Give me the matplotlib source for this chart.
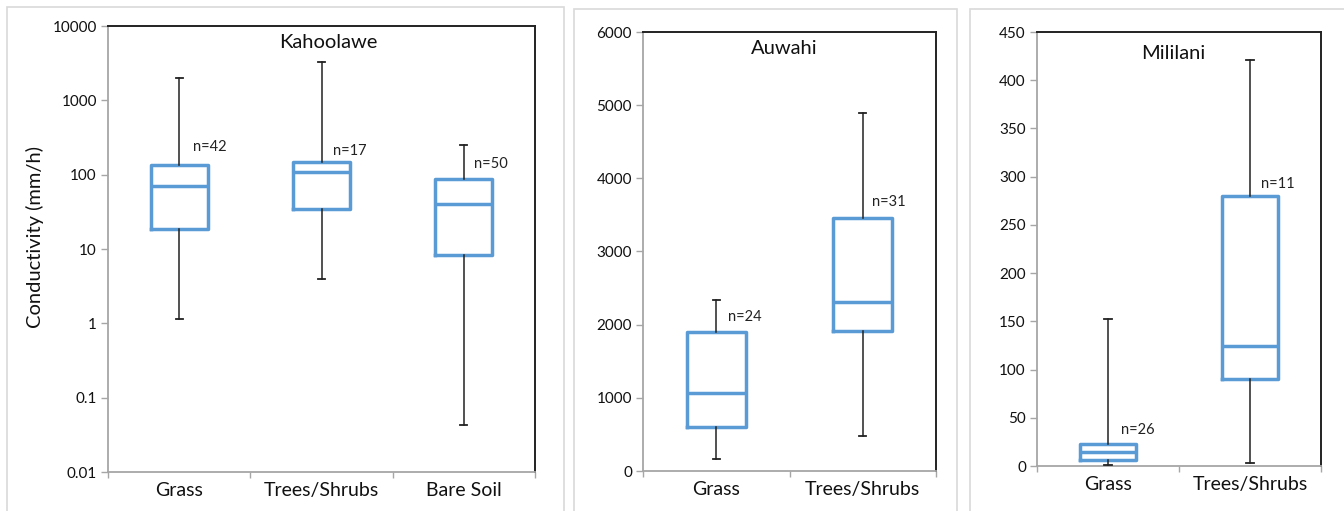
import matplotlib
matplotlib.use("Agg")
import matplotlib.pyplot as plt
from matplotlib.patches import Rectangle
from matplotlib.ticker import FixedLocator, NullLocator

plt.rcParams['font.family'] = ['Lato', 'DejaVu Sans']

# ---------------- data ----------------
kah_categories = ["Grass", "Trees/Shrubs", "Bare Soil"]
kah_whislo = [1.15, 3.9, 0.043]
kah_q1 = [18.7, 34, 8.2]
kah_med = [71, 108, 40]
kah_q3 = [137, 146, 86.5]
kah_whishi = [2000, 3270, 253]
kah_n = ["n=42", "n=17", "n=50"]
kah_n_y = [237, 209, 139]

auw_categories = ["Grass", "Trees/Shrubs"]
auw_whislo = [160, 479]
auw_q1 = [597, 1915]
auw_med = [1071, 2316]
auw_q3 = [1906, 3456]
auw_whishi = [2334, 4892]
auw_n = ["n=24", "n=31"]
auw_n_y = [2111, 3675]

mil_categories = ["Grass", "Trees/Shrubs"]
mil_whislo = [1.0, 3.4]
mil_q1 = [6.6, 90.3]
mil_med = [14.5, 124]
mil_q3 = [23.2, 280]
mil_whishi = [152.4, 420.7]
mil_n = ["n=26", "n=11"]
mil_n_y = [37, 292]

kah_yticks = [0.01, 0.1, 1, 10, 100, 1000, 10000]
kah_yticklabels = ["0.01", "0.1", "1", "10", "100", "1000", "10000"]
auw_yticks = [0, 1000, 2000, 3000, 4000, 5000, 6000]
mil_yticks = [0, 50, 100, 150, 200, 250, 300, 350, 400, 450]

# ---------------- style ----------------
W, H = 1344, 511
BLUE = "#5B9BD5"
GRAY = "#A6A6A6"
FRAME = "#D9D9D9"

fig = plt.figure(figsize=(W / 100, H / 100), dpi=100)
fig.patch.set_facecolor("white")


def px_axes(l, r, t, b):
    return fig.add_axes([l / W, (H - b) / H, (r - l) / W, (b - t) / H])


# outer panel frames (figure pixel coordinates)
for (l, r, t) in [(7, 564, 7), (574, 957, 9), (970, 1350, 9)]:
    fig.patches.append(Rectangle((l / W, -0.05), (r - l) / W, (H - t) / H + 0.05,
                                 transform=fig.transFigure, fill=False,
                                 edgecolor=FRAME, linewidth=1.2, zorder=0))


def draw_panel(ax, cats, wl, q1, med, q3, wh, nlabels, ny, title, title_xy, nx_off):
    stats = []
    for i in range(len(cats)):
        stats.append(dict(whislo=wl[i], q1=q1[i], med=med[i], q3=q3[i],
                          whishi=wh[i], fliers=[], label=cats[i]))
    pos = list(range(len(cats)))
    ax.bxp(stats, positions=pos, widths=0.4, capwidths=0.05, showfliers=False,
           boxprops=dict(color=BLUE, linewidth=2.5),
           medianprops=dict(color=BLUE, linewidth=2.5),
           whiskerprops=dict(color="#222222", linewidth=1.1),
           capprops=dict(color="#222222", linewidth=1.3),
           manage_ticks=False, zorder=3)
    ax.set_xlim(-0.5, len(cats) - 0.5)
    ax.set_xticks(pos)
    ax.set_xticklabels(cats, fontsize=14, color="#111111")
    ax.xaxis.set_minor_locator(FixedLocator([p + 0.5 for p in range(-1, len(cats))]))
    ax.tick_params(axis="x", which="major", length=0, pad=7)
    ax.tick_params(axis="x", which="minor", length=4, color=GRAY, width=1)
    ax.tick_params(axis="y", which="major", length=5, color=GRAY, width=1,
                   labelsize=11, labelcolor="#111111", pad=3)
    ax.tick_params(axis="y", which="minor", length=0)
    for s in ["left", "bottom"]:
        ax.spines[s].set_color(GRAY)
        ax.spines[s].set_linewidth(1.3)
    for s in ["top", "right"]:
        ax.spines[s].set_color("#222222")
        ax.spines[s].set_linewidth(1.4)
    for i, t in enumerate(nlabels):
        ax.text(pos[i] + nx_off[i], ny[i], t, fontsize=10.5, ha="left",
                va="center", color="#222222")
    ax.text(title_xy[0], title_xy[1], title, transform=ax.transAxes,
            fontsize=14.5, ha="center", va="center", color="#111111")


ax1 = px_axes(108, 535, 26, 472)
ax1.set_yscale("log")
ax1.set_ylim(0.01, 10000)
ax1.yaxis.set_major_locator(FixedLocator(kah_yticks))
ax1.yaxis.set_minor_locator(NullLocator())
ax1.set_yticklabels(kah_yticklabels)
draw_panel(ax1, kah_categories, kah_whislo, kah_q1, kah_med, kah_q3, kah_whishi,
           kah_n, kah_n_y, "Kahoolawe", (0.516, 0.964), [0.095, 0.082, 0.07])
ax1.set_ylabel("Conductivity (mm/h)", fontsize=14.5, color="#111111")
ax1.yaxis.set_label_coords(-0.171, 0.527)
ax1.yaxis.label.set_va("center")

ax2 = px_axes(643, 936, 32, 471)
ax2.set_ylim(0, 6000)
ax2.set_yticks(auw_yticks)
draw_panel(ax2, auw_categories, auw_whislo, auw_q1, auw_med, auw_q3, auw_whishi,
           auw_n, auw_n_y, "Auwahi", (0.483, 0.962), [0.077, 0.061])

ax3 = px_axes(1037, 1321, 32, 466)
ax3.set_ylim(0, 450)
ax3.set_yticks(mil_yticks)
draw_panel(ax3, mil_categories, mil_whislo, mil_q1, mil_med, mil_q3, mil_whishi,
           mil_n, mil_n_y, "Mililani", (0.48, 0.95), [0.092, 0.08])

fig.savefig("out.png", dpi=100, facecolor="white")
